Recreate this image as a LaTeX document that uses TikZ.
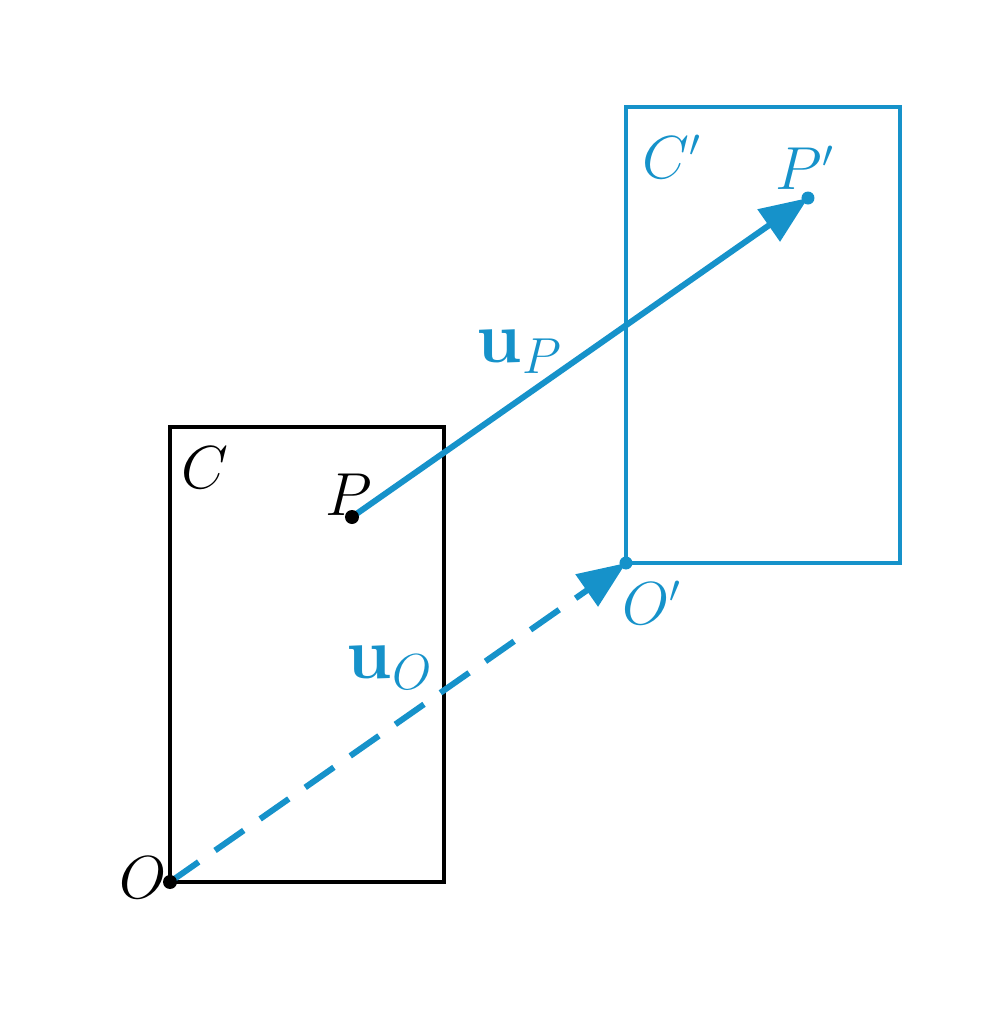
\documentclass[tikz,border=0pt]{standalone}
\usepackage{amsmath, amssymb}
\usepackage{bm}
\usepackage[dvipsnames]{xcolor}
\usepackage{tikz}
\usetikzlibrary{positioning, arrows.meta}
\definecolor{transblue}{RGB}{22,146,202}
\tikzset{
  lbl/.style={font=\fontsize{16}{19}\selectfont, inner sep=0pt},
  veclbl/.style={font=\fontsize{21}{24}\selectfont, inner sep=0pt, text=transblue},
  vecline/.style={transblue, line width=1.7pt, -{Triangle[length=4.8mm, width=3.8mm]}}
}
\begin{document}
\begin{tikzpicture}
				\useasboundingbox (0,0) rectangle (10,10.32);
				% points of both frames
				\coordinate (O) at (1.70,1.50);
				\coordinate (P) at (3.52,5.15);
				\coordinate (O') at (6.26,4.69);
				\coordinate (P') at (8.08,8.34);
				% the two rectangles
				\draw[black, line width=1.4pt] (O) rectangle (4.44,6.05);
				\draw[transblue, line width=1.35pt] (O') rectangle (9.00,9.25);
				% vectors
				\draw[vecline] (P) -- (P');
				\draw[vecline, dash pattern=on 3.5mm off 2mm] (O) -- (O');
				\fill[black] (O) circle (0.07);
				\fill[black] (P) circle (0.07);
				\fill[transblue] (O') circle (0.065);
				\fill[transblue] (P') circle (0.065);
				% labels
				\node[lbl] (labC) at (2.05,5.64) {$C$};
				\node[lbl, text=transblue] (labCp) at (6.72,8.75) {$C'$};
				\node[lbl] (labP) at (3.49,5.37) {$P$};
				\node[lbl, text=transblue] (labPp) at (8.05,8.64) {$P'$};
				\node[lbl] (labO) at (1.43,1.54) {$O$};
				\node[lbl, text=transblue] (labOp) at (6.52,4.29) {$O'$};
				\node[veclbl] (labuP) at (5.20,6.80) {$\mathbf{u}_P$};
				\node[veclbl] (labuO) at (3.90,3.64) {$\mathbf{u}_O$};
			\end{tikzpicture}
\end{document}
